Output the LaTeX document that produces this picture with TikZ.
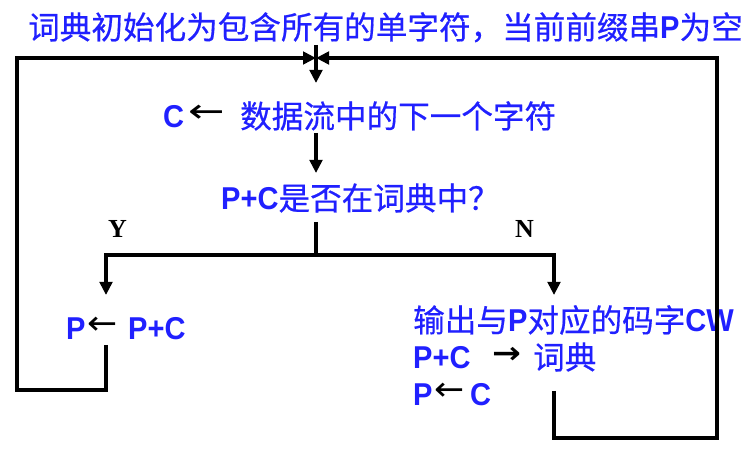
\documentclass[tikz,border=0pt]{standalone}
\usepackage{fontspec}
\usepackage{graphicx}
\usetikzlibrary{arrows.meta}
\setmainfont{Noto Sans CJK SC}[FakeBold=0.5]
\newfontfamily\lat{Liberation Sans}[FakeStretch=0.92]
\newfontfamily\yn{Liberation Serif}
\newfontfamily\arrf{DejaVu Sans}
\definecolor{tblue}{RGB}{32,32,255}
\newcommand{\La}[1]{{\lat\bfseries #1}}
\newcommand{\Lar}{{\arrf\color{black}\fontsize{30}{30}\selectfont\raisebox{5pt}{\scalebox{1.2}[1.1]{←}}}}
\newcommand{\Larl}{{\arrf\color{black}\fontsize{30}{30}\selectfont\raisebox{5pt}{\scalebox{1.45}[1.1]{←}}}}
\newcommand{\Rar}{{\arrf\bfseries\color{black}\fontsize{30}{30}\selectfont\raisebox{5pt}{\scalebox{1.15}[1]{→}}}}
\tikzset{
  txt/.style={anchor=base west,inner sep=0pt,text=tblue,font=\fontsize{31.6}{36}\selectfont},
  lab/.style={anchor=base west,inner sep=0pt,text=black,font=\yn\bfseries\fontsize{26}{30}\selectfont},
  flow/.style={line width=3.2pt,line join=miter,draw=black},
  tip/.style={-{Triangle[length=13pt,width=12.5pt]}}
}
\begin{document}
\begin{tikzpicture}[x=1pt,y=-1pt]
\useasboundingbox[fill=white] (0,0) rectangle (750,454);
% texts
\node[txt] (title) at (28,39) {词典初始化为包含所有的单字符，当前前缀串\La{P}为空};
\node[txt] (read) at (163,128) {\makebox[25pt][l]{\La{C}}\makebox[52pt][l]{\Larl}数据流中的下一个字符};
\node[txt] (test) at (221,210) {\La{P+C}是否在词典中？};
\node[lab] (Y) at (108,238) {Y};
\node[lab] (N) at (515,238) {N};
\node[txt] (yes) at (66,340) {\makebox[21pt][l]{\La{P}}\makebox[41pt][l]{\Lar}\La{P+C}};
\node[txt] (no1) at (413,332) {输出与\La{P}对应的码字\La{CW}};
\node[txt] (no2) at (413,369) {\makebox[79pt][l]{\La{P+C}}\makebox[41pt][l]{\Rar}词典};
\node[txt] (no3) at (413,406) {\makebox[21pt][l]{\La{P}}\makebox[36pt][l]{\Lar}\La{C}};
% coordinates
\coordinate (J) at (316,58);
\coordinate (LT) at (17,58);
\coordinate (RT) at (717,58);
\coordinate (LB) at (17,390);
\coordinate (LB2) at (106,390);
\coordinate (Lup) at (106,345);
\coordinate (RB) at (717,438);
\coordinate (RB2) at (554,438);
\coordinate (Rup) at (554,391);
\coordinate (S1) at (316,45);
\coordinate (E1) at (316,83);
\coordinate (S2) at (316,133);
\coordinate (E2) at (316,173);
\coordinate (S3) at (316,222);
\coordinate (B) at (316,255);
\coordinate (BL) at (106,255);
\coordinate (BR) at (554,255);
\coordinate (EL) at (106,295);
\coordinate (ER) at (554,295);
% connectors
\draw[flow,tip] (Lup) -- (LB2) -- (LB) -- (LT) -- (J);
\draw[flow,tip] (Rup) -- (RB2) -- (RB) -- (RT) -- (J);
\draw[flow,tip] (S1) -- (E1);
\draw[flow,tip] (S2) -- (E2);
\draw[flow] (S3) -- (B);
\draw[flow,tip] (B) -- (BL) -- (EL);
\draw[flow,tip] (B) -- (BR) -- (ER);
\end{tikzpicture}
\end{document}
